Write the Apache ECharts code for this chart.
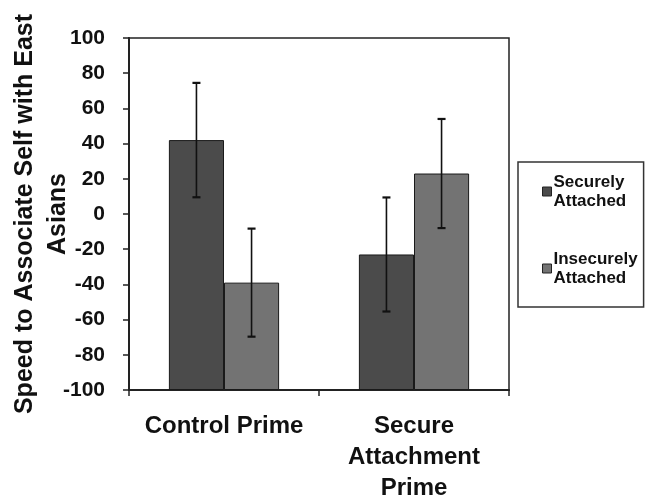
<!DOCTYPE html>
<html>
<head>
<meta charset="utf-8">
<script src="https://cdn.jsdelivr.net/npm/echarts@6/dist/echarts.min.js"></script>
<style>
  html, body { margin: 0; padding: 0; background: #fff; }
  #main { width: 649px; height: 501px; }
</style>
</head>
<body>
<div id="main"></div>
<script>
'use strict'
// data
var categories = ['Control Prime', 'Secure\nAttachment\nPrime'];
var secureMeans = [42, -23];
var secureErr = [32.5, 32.4];
var insecureMeans = [-39, 23];
var insecureErr = [30.7, 31];
var yMin = -100, yMax = 100, yStep = 20;

var barColors = ['#4b4b4b', '#737373'];
var catGap = 0.42;
// bars in the figure grow up from the bottom of the axis (-100), so the
// values are drawn against a shifted axis and the labels shifted back
var base = -yMin;

function shifted(arr) {
    return arr.map(function (v) { return v + base; });
}

function errData(means, errs) {
    return means.map(function (m, i) {
        return [i, m - errs[i] + base, m + errs[i] + base];
    });
}

function errRender(side) {
    return function (params, api) {
        var band = api.size([1, 0])[0];
        var off = side * band * (1 - catGap) / 4;
        var lo = api.coord([api.value(0), api.value(1)]);
        var hi = api.coord([api.value(0), api.value(2)]);
        var x = lo[0] + off;
        var style = { stroke: '#111', lineWidth: 1.6 };
        return {
            type: 'group',
            children: [
                { type: 'line', shape: { x1: x, y1: hi[1], x2: x, y2: lo[1] }, style: style },
                { type: 'line', shape: { x1: x - 4, y1: hi[1], x2: x + 4, y2: hi[1] }, style: { stroke: '#111', lineWidth: 2.2 } },
                { type: 'line', shape: { x1: x - 4, y1: lo[1], x2: x + 4, y2: lo[1] }, style: { stroke: '#111', lineWidth: 2.2 } }
            ]
        };
    };
}

var option = {
    animation: false,
    backgroundColor: '#fff',
    textStyle: { fontFamily: 'Liberation Sans, Arial, sans-serif' },
    grid: {
        left: 129,
        right: 140,
        top: 38,
        bottom: 111,
        outerBoundsMode: 'none',
        show: true,
        borderColor: '#222',
        borderWidth: 1.5
    },
    legend: {
        orient: 'vertical',
        left: 518,
        top: 162,
        padding: [1, 6, 10, 24],
        itemGap: 20,
        itemWidth: 9,
        itemHeight: 9,
        icon: 'rect',
        backgroundColor: '#fff',
        borderColor: '#333',
        borderWidth: 1.5,
        data: ['Securely\nAttached', 'Insecurely\nAttached'],
        itemStyle: { borderColor: '#222', borderWidth: 1 },
        textStyle: {
            fontSize: 17,
            fontWeight: 'bold',
            color: '#111',
            lineHeight: 19,
            padding: [19, 0, 0, -3]
        }
    },
    xAxis: {
        type: 'category',
        data: categories,
        axisLine: { onZero: false, lineStyle: { color: '#222', width: 2 } },
        axisTick: { show: true, interval: 0, length: 6, lineStyle: { color: '#222', width: 1.5 } },
        axisLabel: {
            interval: 0,
            fontSize: 24,
            fontWeight: 'bold',
            color: '#111',
            lineHeight: 31,
            margin: 21
        }
    },
    yAxis: {
        type: 'value',
        min: 0,
        max: yMax - yMin,
        interval: yStep,
        name: 'Speed to Associate Self with East\nAsians',
        nameLocation: 'middle',
        nameGap: 54,
        nameMoveOverlap: false,
        nameTextStyle: {
            fontSize: 25,
            fontWeight: 'bold',
            color: '#111',
            lineHeight: 33
        },
        splitLine: { show: false },
        axisLine: { show: true, lineStyle: { color: '#222', width: 2 } },
        axisTick: { show: true, length: 6, lineStyle: { color: '#222', width: 1.5 } },
        axisLabel: {
            fontSize: 21,
            fontWeight: 'bold',
            color: '#111',
            margin: 24,
            formatter: function (v) { return String(v - base); }
        }
    },
    series: [
        {
            name: 'Securely\nAttached',
            type: 'bar',
            data: shifted(secureMeans),
            barGap: '0%',
            barCategoryGap: (catGap * 100) + '%',
            itemStyle: { color: barColors[0], borderColor: '#1a1a1a', borderWidth: 1 }
        },
        {
            name: 'Insecurely\nAttached',
            type: 'bar',
            data: shifted(insecureMeans),
            itemStyle: { color: barColors[1], borderColor: '#1a1a1a', borderWidth: 1 }
        },
        {
            type: 'custom',
            renderItem: errRender(-1),
            data: errData(secureMeans, secureErr),
            encode: { x: 0, y: [1, 2] },
            z: 10
        },
        {
            type: 'custom',
            renderItem: errRender(1),
            data: errData(insecureMeans, insecureErr),
            encode: { x: 0, y: [1, 2] },
            z: 10
        }
    ]
};

var myChart = echarts.init(document.getElementById('main'));
myChart.setOption(option);
</script>
</body>
</html>
